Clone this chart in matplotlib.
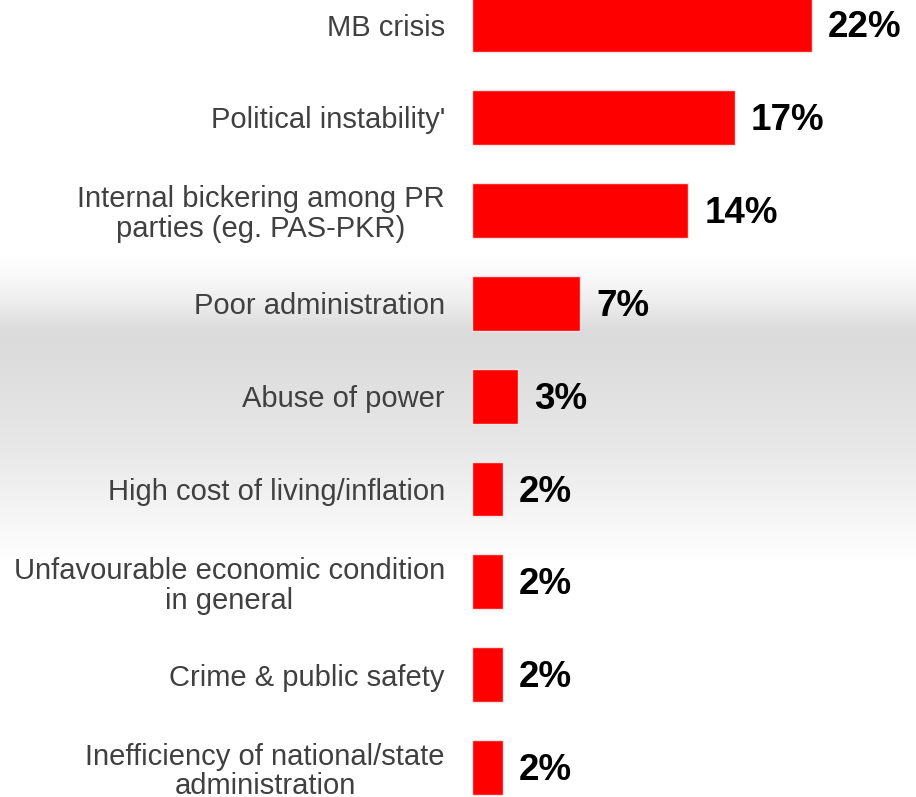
import numpy as np
import matplotlib
matplotlib.use("Agg")
import matplotlib.pyplot as plt

categories = [
    "MB crisis",
    "Political instability'",
    "Internal bickering among PR\nparties (eg. PAS-PKR)",
    "Poor administration",
    "Abuse of power",
    "High cost of living/inflation",
    "Unfavourable economic condition\nin general",
    "Crime & public safety",
    "Inefficiency of national/state\nadministration",
]
values = [22, 17, 14, 7, 3, 2, 2, 2, 2]
value_labels = ["22%", "17%", "14%", "7%", "3%", "2%", "2%", "2%", "2%"]

plt.rcParams['font.family'] = ['Liberation Sans', 'DejaVu Sans']

W, H = 916, 797
fig = plt.figure(figsize=(W / 100, H / 100), dpi=100)

# background band: white -> grey -> white, drawn pixel for pixel
rows = np.arange(H)
stops_y = [0, 255, 270, 300, 330, 345, 440, 500, 560, H]
stops_v = [1.0, 1.0, 0.985, 0.935, 0.86, 0.86, 0.905, 0.95, 1.0, 1.0]
shade = np.interp(rows, stops_y, stops_v)[::-1]  # figimage origin is bottom
img = np.repeat(shade[:, None], W, axis=1)
fig.figimage(np.dstack([img, img, img]), xo=0, yo=0, origin='lower', zorder=0)

left = 472 / W
ax = fig.add_axes([left, 0, 1 - left, 1], zorder=1)
ax.patch.set_alpha(0)

y = np.arange(len(categories))
ax.barh(y, values, height=0.59, color='#ff0000', edgecolor='#fde0e0', linewidth=1)

ax.set_xlim(0, (W - 472) / 15.45)
ax.set_ylim((H - 24.5) / 92.9, -24.5 / 92.9)

for yi, v, lab in zip(y, values, value_labels):
    ax.annotate(lab, (v, yi), xytext=(16, -3), textcoords='offset pixels',
                ha='left', va='center', fontsize=26.5, fontweight='bold',
                color='black')

ax.set_yticks(y)
ax.set_yticklabels(categories, fontsize=21, color='#404040', ha='right',
                   multialignment='center', linespacing=1.08)
ax.tick_params(axis='y', length=0, pad=19.5)
ax.set_xticks([])
for s in ax.spines.values():
    s.set_visible(False)

fig.savefig("out.png", dpi=100)
plt.close(fig)
